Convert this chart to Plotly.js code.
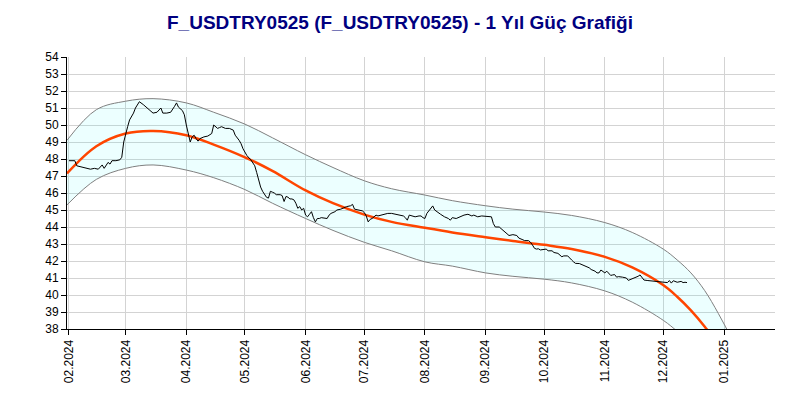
<!DOCTYPE html>
<html>
<head>
<meta charset="utf-8">
<script src="https://cdn.plot.ly/plotly-3.0.1.min.js"></script>
<style>html,body{margin:0;padding:0;background:#fff;}#chart{width:800px;height:400px;}</style>
</head>
<body>
<div id="chart"></div>
<script>
// Price series (daily close)
const priceDates = [
"2024-02-01","2024-02-04","2024-02-05","2024-02-07","2024-02-09","2024-02-11","2024-02-12","2024-02-14","2024-02-16","2024-02-18",
"2024-02-19","2024-02-21","2024-02-22","2024-02-23","2024-02-25","2024-02-27","2024-02-28","2024-02-29","2024-03-01","2024-03-02",
"2024-03-03","2024-03-04","2024-03-05","2024-03-06","2024-03-07","2024-03-08","2024-03-10","2024-03-12","2024-03-13","2024-03-15",
"2024-03-17","2024-03-18","2024-03-19","2024-03-20","2024-03-22","2024-03-24","2024-03-25","2024-03-26","2024-03-27","2024-03-28",
"2024-03-30","2024-03-31","2024-04-01","2024-04-02","2024-04-03","2024-04-04","2024-04-05","2024-04-06","2024-04-07","2024-04-08",
"2024-04-10","2024-04-12","2024-04-14","2024-04-15","2024-04-16","2024-04-17","2024-04-18","2024-04-19","2024-04-21","2024-04-23",
"2024-04-25","2024-04-26","2024-04-28","2024-04-29","2024-04-30","2024-05-01","2024-05-02","2024-05-04","2024-05-05","2024-05-06",
"2024-05-07","2024-05-08","2024-05-09","2024-05-10","2024-05-11","2024-05-12","2024-05-13","2024-05-14","2024-05-15","2024-05-16",
"2024-05-17","2024-05-19","2024-05-20","2024-05-21","2024-05-22","2024-05-23","2024-05-24","2024-05-25","2024-05-26","2024-05-27",
"2024-05-28","2024-05-29","2024-05-30","2024-05-31","2024-06-01","2024-06-02","2024-06-03","2024-06-04","2024-06-05","2024-06-06",
"2024-06-07","2024-06-08","2024-06-09","2024-06-11","2024-06-12","2024-06-13","2024-06-14","2024-06-16","2024-06-17","2024-06-19",
"2024-06-20","2024-06-22","2024-06-24","2024-06-25","2024-06-26","2024-06-28","2024-06-30","2024-07-01","2024-07-02","2024-07-03",
"2024-07-04","2024-07-05","2024-07-07","2024-07-08","2024-07-10","2024-07-11","2024-07-13","2024-07-15","2024-07-17","2024-07-19",
"2024-07-21","2024-07-22","2024-07-23","2024-07-24","2024-07-26","2024-07-27","2024-07-29","2024-07-30","2024-07-31","2024-08-01",
"2024-08-02","2024-08-03","2024-08-04","2024-08-05","2024-08-06","2024-08-07","2024-08-08","2024-08-09","2024-08-11","2024-08-13",
"2024-08-14","2024-08-15","2024-08-17","2024-08-18","2024-08-20","2024-08-21","2024-08-23","2024-08-25","2024-08-26","2024-08-28",
"2024-08-30","2024-09-02","2024-09-04","2024-09-05","2024-09-06","2024-09-08","2024-09-10","2024-09-11","2024-09-12","2024-09-13",
"2024-09-15","2024-09-17","2024-09-18","2024-09-20","2024-09-21","2024-09-23","2024-09-24","2024-09-25","2024-09-26","2024-09-27",
"2024-09-28","2024-09-29","2024-10-01","2024-10-02","2024-10-03","2024-10-05","2024-10-06","2024-10-08","2024-10-10","2024-10-11",
"2024-10-13","2024-10-14","2024-10-15","2024-10-16","2024-10-17","2024-10-19","2024-10-20","2024-10-21","2024-10-22","2024-10-24",
"2024-10-25","2024-10-26","2024-10-27","2024-10-28","2024-10-29","2024-10-30","2024-10-31","2024-11-01","2024-11-02","2024-11-03",
"2024-11-04","2024-11-05","2024-11-06","2024-11-07","2024-11-08","2024-11-10","2024-11-12","2024-11-13","2024-11-14","2024-11-15",
"2024-11-17","2024-11-18","2024-11-19","2024-11-20","2024-11-21","2024-11-23","2024-11-25","2024-11-27","2024-11-28","2024-11-30",
"2024-12-02","2024-12-03","2024-12-04","2024-12-05","2024-12-06","2024-12-08","2024-12-10","2024-12-11","2024-12-12","2024-12-13"
];
const priceValues = [
47.9,47.9,47.6,47.55,47.5,47.45,47.4,47.45,47.4,47.65,
47.45,47.8,47.7,47.9,47.9,47.95,48.1,49.0,49.5,49.9,
50.3,50.5,50.7,51.0,51.2,51.37,51.2,51.0,50.9,50.7,
50.75,50.85,51.0,50.7,50.7,50.75,50.9,51.1,51.3,51.05,
50.85,50.6,50.0,49.5,49.0,49.3,49.4,49.2,49.05,49.2,
49.3,49.35,49.5,50.0,49.9,49.8,49.85,49.9,49.8,49.8,
49.7,49.4,49.1,48.9,48.6,48.4,48.2,47.95,47.8,47.6,
47.2,46.7,46.35,46.1,45.9,45.75,45.7,46.1,46.05,46.0,
45.9,45.9,45.85,45.5,45.8,45.75,45.65,45.65,45.6,45.4,
45.1,45.2,45.0,45.1,44.7,44.6,44.75,44.9,44.55,44.3,
44.5,44.5,44.55,44.5,44.5,44.7,44.8,44.9,45.0,45.05,
45.1,45.2,45.25,45.33,45.05,45.0,44.95,44.85,44.65,44.3,
44.45,44.5,44.7,44.65,44.7,44.76,44.8,44.8,44.75,44.7,
44.65,44.55,44.4,44.7,44.65,44.6,44.65,44.65,44.55,44.5,
44.8,44.95,45.1,45.24,45.0,44.9,44.8,44.75,44.6,44.5,
44.4,44.55,44.5,44.55,44.65,44.7,44.75,44.65,44.7,44.6,
44.65,44.6,44.6,44.2,44.0,44.0,43.8,43.75,43.6,43.5,
43.55,43.5,43.35,43.25,43.2,43.2,43.1,42.94,42.75,42.7,
42.72,42.65,42.7,42.7,42.6,42.6,42.5,42.45,42.25,42.3,
42.3,42.15,42.06,41.95,41.86,41.85,41.8,41.75,41.66,41.6,
41.5,41.45,41.4,41.3,41.3,41.47,41.4,41.3,41.4,41.3,
41.15,41.18,41.2,41.05,41.08,41.05,41.0,40.86,40.9,40.95,
41.05,41.1,41.18,41.0,40.88,40.85,40.82,40.82,40.8,40.78,
40.75,40.73,40.85,40.7,40.84,40.75,40.8,40.73,40.75,40.73
];

// Trend curve and its band
const trendDates = [
"2024-01-31","2024-02-15","2024-03-01","2024-03-15","2024-04-01","2024-04-15","2024-05-01","2024-05-15","2024-06-01","2024-06-15",
"2024-07-01","2024-07-15","2024-08-01","2024-08-15","2024-09-01","2024-09-15","2024-10-01","2024-10-15","2024-11-01","2024-11-15",
"2024-12-01","2024-12-08","2024-12-15","2024-12-22","2024-12-29","2025-01-05","2025-01-12","2025-01-19","2025-01-26"
];
const trendValues = [
47.15,48.75,49.5,49.65,49.4,48.85,48.1,47.3,46.15,45.4,
44.73,44.3,43.95,43.68,43.4,43.18,42.95,42.71,42.24,41.62,
40.57,39.9,39.1,38.15,37.05,35.8,34.4,32.8,31.0
];
const upperValues = [
49.1,50.9,51.4,51.55,51.3,50.75,50.05,49.25,48.25,47.5,
46.72,46.25,45.88,45.55,45.25,45.05,44.88,44.68,44.26,43.68,
42.69,42.06,41.3,40.27,38.92,37.39,35.65,33.66,31.47
];
const lowerValues = [
45.3,46.8,47.45,47.65,47.35,46.9,46.2,45.4,44.5,43.8,
43.1,42.6,41.95,41.7,41.3,41.1,40.93,40.71,40.24,39.58,
38.5,37.86,37.1,36.2,35.1,33.8,32.3,30.7,29.0
];

const titleText = "F_USDTRY0525 (F_USDTRY0525) - 1 Yıl Güç Grafiği";

const fontFam = "Liberation Sans, Arial, sans-serif";

const traces = [
  {x: trendDates, y: lowerValues, type: "scatter", mode: "lines",
   line: {color: "#808080", width: 1, shape: "spline", smoothing: 1}, hoverinfo: "skip", showlegend: false},
  {x: trendDates, y: upperValues, type: "scatter", mode: "lines", fill: "tonexty",
   fillcolor: "rgba(0,255,255,0.075)",
   line: {color: "#808080", width: 1, shape: "spline", smoothing: 1}, hoverinfo: "skip", showlegend: false},
  {x: trendDates, y: trendValues, type: "scatter", mode: "lines",
   line: {color: "#ff4500", width: 2.5, shape: "spline", smoothing: 1}, hoverinfo: "skip", showlegend: false},
  {x: priceDates, y: priceValues, type: "scatter", mode: "lines",
   line: {color: "#000000", width: 1}, hoverinfo: "skip", showlegend: false}
];

const layout = {
  width: 800, height: 400,
  margin: {l: 67, r: 25, t: 57, b: 71, pad: 0},
  paper_bgcolor: "#ffffff", plot_bgcolor: "#ffffff",
  font: {family: fontFam, size: 12, color: "#000000"},
  title: {text: "<b>" + titleText + "</b>", x: 0.5, xanchor: "center", y: 0.943, yanchor: "middle",
          font: {family: fontFam, size: 19, color: "#000080"}},
  showlegend: false,
  xaxis: {
    type: "date", range: ["2024-01-31", "2025-01-27"],
    tick0: "2024-02-01", dtick: "M1", tickformat: "%m.%Y", tickangle: -90,
    showgrid: true, gridcolor: "#d3d3d3", gridwidth: 1,
    showline: true, linecolor: "#000000", linewidth: 1,
    ticks: "outside", ticklen: 5, tickcolor: "#000000",
    tickfont: {family: fontFam, size: 12, color: "#000000"},
    zeroline: false, fixedrange: true
  },
  yaxis: {
    range: [38, 54], dtick: 1, tick0: 38,
    showgrid: true, gridcolor: "#d3d3d3", gridwidth: 1,
    showline: true, linecolor: "#000000", linewidth: 1,
    ticks: "outside", ticklen: 5, tickcolor: "#000000",
    tickfont: {family: fontFam, size: 12, color: "#000000"},
    zeroline: false, fixedrange: true
  }
};

Plotly.newPlot("chart", traces, layout, {displayModeBar: false, staticPlot: true});
</script>
</body>
</html>
